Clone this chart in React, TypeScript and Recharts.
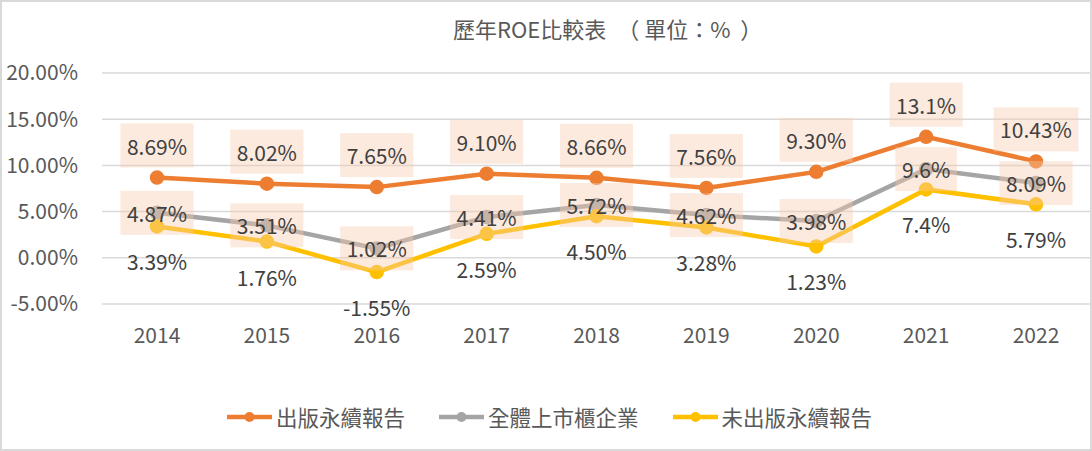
import React from 'react';
import { LineChart, Line, XAxis, YAxis, CartesianGrid, LabelList } from 'recharts';

const years = ['2014', '2015', '2016', '2017', '2018', '2019', '2020', '2021', '2022'];
const published = [8.69, 8.02, 7.65, 9.10, 8.66, 7.56, 9.30, 13.1, 10.43];
const allListed = [4.87, 3.51, 1.02, 4.41, 5.72, 4.62, 3.98, 9.6, 8.09];
const notPublished = [3.39, 1.76, -1.55, 2.59, 4.50, 3.28, 1.23, 7.4, 5.79];
const publishedText = ['8.69%', '8.02%', '7.65%', '9.10%', '8.66%', '7.56%', '9.30%', '13.1%', '10.43%'];
const allListedText = ['4.87%', '3.51%', '1.02%', '4.41%', '5.72%', '4.62%', '3.98%', '9.6%', '8.09%'];
const notPublishedText = ['3.39%', '1.76%', '-1.55%', '2.59%', '4.50%', '3.28%', '1.23%', '7.4%', '5.79%'];
const yTicks = [-5, 0, 5, 10, 15, 20];

const FONT = "'Noto Sans CJK TC', 'Noto Sans', sans-serif";
const ORANGE = '#ED7D31';
const GRAY = '#A5A5A5';
const YELLOW = '#FFC000';

const data = years.map((y, i) => ({
    year: y,
    pub: published[i],
    all: allListed[i],
    nopub: notPublished[i],
}));

let ctx: CanvasRenderingContext2D | null = null;
function textWidth(s: string, size: number) {
    if (!ctx) ctx = document.createElement('canvas').getContext('2d');
    if (!ctx) return s.length * size * 0.55;
    ctx.font = `${size}px ${FONT}`;
    return ctx.measureText(s).width;
}

// label with optional peach box, offset dy from the point
function makeLabel(texts: string[], dy: number, boxed: boolean) {
    return function BoxLabel(props: any) {
        const { x, y, index } = props;
        const t = texts[index];
        const cy = y + dy;
        const w = textWidth(t, 21) + 13;
        return (
            <g>
                {boxed && (
                    <rect x={x - w / 2} y={cy - 22} width={w} height={44} fill="#F8CBAD" fillOpacity={0.4} />
                )}
                <text x={x} y={cy} textAnchor="middle" dominantBaseline="central" fontSize={21} fill="#404040" fontFamily={FONT}>
                    {t}
                </text>
            </g>
        );
    };
}

const legendItems = [
    { name: '出版永續報告', color: ORANGE },
    { name: '全體上市櫃企業', color: GRAY },
    { name: '未出版永續報告', color: YELLOW },
];

export default function App() {
    return (
        <div style={{ position: 'relative', width: 1092, height: 451, background: '#fff', fontFamily: FONT }}>
            <style>{'body{margin:0}'}</style>
            <div style={{ position: 'absolute', left: 453, top: 12, whiteSpace: 'pre', fontSize: 22, color: '#595959' }}>
                {'歷年ROE比較表　（ 單位：%  ）'}
            </div>
            <LineChart
                width={1091}
                height={451}
                data={data}
                margin={{ top: 73, right: 0, left: 0, bottom: 107 }}
                style={{ position: 'absolute', left: 0, top: 0 }}
            >
                <CartesianGrid horizontal vertical={false} stroke="#D9D9D9" strokeWidth={1.5} />
                <XAxis
                    dataKey="year"
                    height={40}
                    padding={{ left: 55, right: 55 }}
                    axisLine={false}
                    tickLine={false}
                    tickSize={0}
                    tickMargin={24}
                    tick={{ fontSize: 21, fill: '#595959', fontFamily: FONT }}
                />
                <YAxis
                    width={102}
                    domain={[-5, 20]}
                    ticks={yTicks}
                    interval={0}
                    axisLine={false}
                    tickLine={false}
                    tickSize={0}
                    tickMargin={24}
                    tickFormatter={(v: number) => `${v.toFixed(2)}%`}
                    tick={{ fontSize: 21, fill: '#595959', fontFamily: FONT }}
                />
                <Line dataKey="pub" stroke={ORANGE} strokeWidth={4.5} dot={{ r: 5, fill: ORANGE, stroke: ORANGE }} isAnimationActive={false}>
                    <LabelList dataKey="pub" content={makeLabel(publishedText, -32, true)} />
                </Line>
                <Line dataKey="all" stroke={GRAY} strokeWidth={4.5} dot={{ r: 5, fill: GRAY, stroke: GRAY }} isAnimationActive={false}>
                    <LabelList dataKey="all" content={makeLabel(allListedText, 0, true)} />
                </Line>
                <Line dataKey="nopub" stroke={YELLOW} strokeWidth={4.5} dot={{ r: 5, fill: YELLOW, stroke: YELLOW }} isAnimationActive={false}>
                    <LabelList dataKey="nopub" content={makeLabel(notPublishedText, 35, false)} />
                </Line>
            </LineChart>
            <div style={{ position: 'absolute', left: 227, top: 403, display: 'flex', alignItems: 'center', gap: 34, fontSize: 21.5, color: '#595959' }}>
                {legendItems.map((it) => (
                    <div key={it.name} style={{ display: 'flex', alignItems: 'center', gap: 4 }}>
                        <svg width={45} height={14}>
                            <line x1={0} y1={7} x2={45} y2={7} stroke={it.color} strokeWidth={4.5} strokeLinecap="round" />
                            <circle cx={22.5} cy={7} r={5} fill={it.color} />
                        </svg>
                        <span style={{ lineHeight: '28px' }}>{it.name}</span>
                    </div>
                ))}
            </div>
            <div style={{ position: 'absolute', left: 0, top: 0, width: 1092, height: 451, boxSizing: 'border-box', border: '2px solid #D9D9D9', pointerEvents: 'none' }} />
        </div>
    );
}
